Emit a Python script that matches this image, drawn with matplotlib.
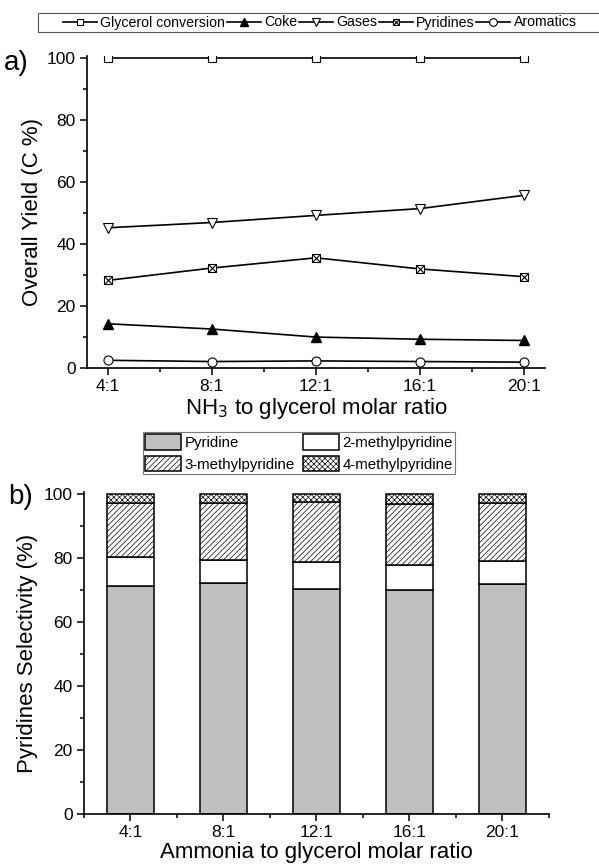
import numpy as np
import matplotlib
matplotlib.use('Agg')
import matplotlib.pyplot as plt
from matplotlib.legend_handler import HandlerTuple
from matplotlib.patches import Rectangle

plt.rcParams['font.family'] = ['Liberation Sans', 'DejaVu Sans']
plt.rcParams['hatch.linewidth'] = 0.5

"""Data read from the figure."""
ratios = ['4:1', '8:1', '12:1', '16:1', '20:1']
glycerol = [100, 100, 100, 100, 100]
coke = [14.3, 12.6, 10.0, 9.3, 8.9]
gases = [45.3, 47.0, 49.3, 51.5, 55.8]
pyridines = [28.3, 32.3, 35.6, 32.0, 29.5]
aromatics = [2.5, 2.1, 2.3, 2.1, 1.9]

pyridine = [71.2, 72.1, 70.1, 69.8, 71.8]
mp2 = [9.0, 7.1, 8.6, 7.9, 7.3]
mp3 = [16.9, 17.9, 18.7, 19.1, 18.0]
mp4 = [100 - a - b - c for a, b, c in zip(pyridine, mp2, mp3)]

x = np.arange(len(ratios))
tick_fs = 12.5
label_fs = 16

fig = plt.figure(figsize=(5.99, 8.67), dpi=100)

"""Panel a)"""
ax1 = fig.add_axes([0.145, 0.5755, 0.765, 0.36])
lw = 1.2
h_gly, = ax1.plot(x, glycerol, '-', color='k', lw=lw, marker='s', ms=5.5,
                  mfc='white', mec='k', mew=0.8)
h_coke, = ax1.plot(x, coke, '-', color='k', lw=lw, marker='^', ms=7,
                   mfc='k', mec='k')
h_gas, = ax1.plot(x, gases, '-', color='k', lw=lw, marker='v', ms=7,
                  mfc='white', mec='k', mew=0.8)
h_pyr, = ax1.plot(x, pyridines, '-', color='k', lw=lw, marker='s', ms=5.5,
                  mfc='white', mec='k', mew=0.8)
h_pyr2, = ax1.plot(x, pyridines, ls='none', marker='x', ms=5.5, mec='k', mew=0.8)
h_aro, = ax1.plot(x, aromatics, '-', color='k', lw=lw, marker='o', ms=6.5,
                  mfc='white', mec='k', mew=0.8)

ax1.set_xlim(-0.2, 4.2)
ax1.set_ylim(0, 100.8)
ax1.set_xticks(x)
ax1.set_xticklabels(ratios)
ax1.set_xticks(x[:-1] + 0.5, minor=True)
ax1.set_yticks([0, 20, 40, 60, 80, 100])
ax1.set_yticks([10, 30, 50, 70, 90], minor=True)
ax1.spines['top'].set_visible(False)
ax1.spines['right'].set_visible(False)
for s in ['left', 'bottom']:
    ax1.spines[s].set_linewidth(1.2)
ax1.tick_params(which='major', direction='out', length=5, width=1.1,
                labelsize=tick_fs, pad=3)
ax1.tick_params(which='minor', direction='out', length=3, width=1.1)
ax1.set_ylabel('Overall Yield (C %)', fontsize=label_fs, labelpad=3)
ax1.set_xlabel(r'NH$_3$ to glycerol molar ratio', fontsize=label_fs, labelpad=1)
fig.text(0.006, 0.927, 'a)', fontsize=20, va='center')

"""Legend for a) with its own frame that runs off the right edge."""
fig.patches.append(Rectangle((38 / 599, 1 - 32 / 867), 0.96, 19 / 867,
                             transform=fig.transFigure, fill=False,
                             edgecolor='#555555', lw=0.8))
leg1 = fig.legend([h_gly, h_coke, h_gas, (h_pyr, h_pyr2), h_aro],
                  ['Glycerol conversion', 'Coke', 'Gases', 'Pyridines', 'Aromatics'],
                  handler_map={tuple: HandlerTuple(ndivide=1, pad=0)},
                  loc='center left', bbox_to_anchor=(0.105, 1 - 22.5 / 867), ncol=5,
                  fontsize=10.2, frameon=False, borderaxespad=0, borderpad=0,
                  handlelength=2.4, handletextpad=0.25, columnspacing=0.1,
                  markerscale=0.85)

"""Panel b)"""
ax2 = fig.add_axes([0.140, 0.061, 0.7765, 0.3715])
w = 0.5
b1 = ax2.bar(x, pyridine, w, color='#c0c0c0', edgecolor='k', lw=1.1)
b2 = ax2.bar(x, mp2, w, bottom=pyridine, color='white', edgecolor='k', lw=1.1)
bot3 = [a + b for a, b in zip(pyridine, mp2)]
b3 = ax2.bar(x, mp3, w, bottom=bot3, color='white', edgecolor='k', lw=1.1,
             hatch='//////')
bot4 = [a + b for a, b in zip(bot3, mp3)]
b4 = ax2.bar(x, mp4, w, bottom=bot4, color='white', edgecolor='k', lw=1.1,
             hatch='xxxxxx')

ax2.set_xlim(-0.5, 4.5)
ax2.set_ylim(0, 100.5)
ax2.set_xticks(x)
ax2.set_xticklabels(ratios)
ax2.set_xticks(np.arange(-0.5, 4.6, 1.0), minor=True)
ax2.set_yticks([0, 20, 40, 60, 80, 100])
ax2.set_yticks([10, 30, 50, 70, 90], minor=True)
ax2.spines['top'].set_visible(False)
ax2.spines['right'].set_visible(False)
for s in ['left', 'bottom']:
    ax2.spines[s].set_linewidth(1.2)
ax2.tick_params(which='major', direction='out', length=5, width=1.1,
                labelsize=tick_fs, pad=3)
ax2.tick_params(which='minor', direction='out', length=3, width=1.1)
ax2.set_ylabel('Pyridines Selectivity (%)', fontsize=label_fs, labelpad=4)
ax2.set_xlabel('Ammonia to glycerol molar ratio', fontsize=label_fs, labelpad=1)
fig.text(0.013, 0.427, 'b)', fontsize=20, va='center')

# matplotlib fills legend columns first, so order handles for row-wise reading
leg2 = fig.legend([b1, b3, b2, b4],
                  ['Pyridine', '3-methylpyridine', '2-methylpyridine', '4-methylpyridine'],
                  loc='upper left', bbox_to_anchor=(0.238, 0.5017), ncol=2,
                  fontsize=10.8, frameon=True, fancybox=False, edgecolor='#555555',
                  borderaxespad=0, handlelength=2.4, handleheight=1.2,
                  handletextpad=0.27, columnspacing=0.5, borderpad=0.15,
                  labelspacing=0.4)
leg2.get_frame().set_linewidth(0.8)

fig.savefig('out.png', dpi=100)
